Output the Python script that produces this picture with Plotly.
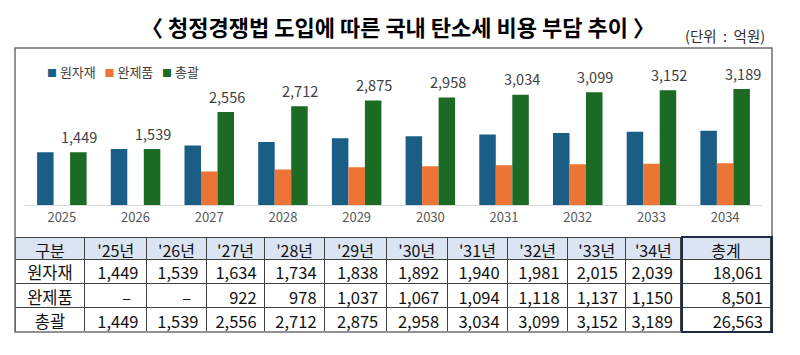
import plotly.graph_objects as go

# ---------------- data ----------------
years = ["2025", "2026", "2027", "2028", "2029", "2030", "2031", "2032", "2033", "2034"]
raw_material = [1449, 1539, 1634, 1734, 1838, 1892, 1940, 1981, 2015, 2039]
finished_goods = [None, None, 922, 978, 1037, 1067, 1094, 1118, 1137, 1150]
total = [1449, 1539, 2556, 2712, 2875, 2958, 3034, 3099, 3152, 3189]
table_year_labels = ["'25년", "'26년", "'27년", "'28년", "'29년", "'30년", "'31년", "'32년", "'33년", "'34년"]
series_names = ["원자재", "완제품", "총괄"]
sum_raw, sum_finished, sum_total = 18061, 8501, 26563

title_text = "〈 청정경쟁법 도입에 따른 국내 탄소세 비용 부담 추이 〉"
unit_text = "(단위 : 억원)"

# ---------------- style ----------------
W, H = 800, 355
C_BLUE, C_ORANGE, C_GREEN = "#1A5E86", "#EC7434", "#1B6B25"
FONT = "Noto Sans CJK KR"


def px(x):
    return x / W


def py(y):
    return 1 - y / H


fig = go.Figure()
colors = [C_BLUE, C_ORANGE, C_GREEN]
for name, vals, col in zip(series_names, [raw_material, finished_goods, total], colors):
    fig.add_trace(go.Bar(x=years, y=vals, name=name, marker=dict(color=col, line=dict(width=0)),
                         showlegend=False, hoverinfo="skip"))

bar_w_px = 16.5
annotations = []
for i, v in enumerate(total):
    # category axis: annotation x is the category's serial index
    annotations.append(dict(x=i, y=v, xref="x", yref="y", text=f"{v:,}", showarrow=False,
                            xshift=bar_w_px + 1, yshift=16, yanchor="middle",
                            font=dict(family=FONT, size=14.5, color="#404040")))

# title & unit
annotations.append(dict(x=px(398), y=py(26), xref="paper", yref="paper", text=f"<b>{title_text}</b>",
                        showarrow=False, xanchor="center", yanchor="middle",
                        font=dict(family=FONT, size=22, color="#000000")))
annotations.append(dict(x=px(767), y=py(36), xref="paper", yref="paper",
                        text=unit_text.replace(" ", "\u00a0\u00a0"),
                        showarrow=False, xanchor="right", yanchor="middle",
                        font=dict(family=FONT, size=14.5, color="#303030")))

# legend (custom, compact)
leg = "\u00a0\u00a0\u00a0".join(
    f"<span style='color:{c};font-size:10px'>■</span>\u00a0{n}" for n, c in zip(series_names, colors))
annotations.append(dict(x=px(45), y=py(72), xref="paper", yref="paper", text=leg, showarrow=False,
                        xanchor="left", yanchor="middle",
                        font=dict(family=FONT, size=13, color="#404040")))

# table
fmt = lambda v: "–\u00a0\u00a0" if v is None else f"{v:,}"
header_vals = ["구분"] + table_year_labels + ["총계"]
cells_vals = [series_names] + [[fmt(r), fmt(f), fmt(t)] for r, f, t in zip(raw_material, finished_goods, total)] \
    + [[f"{sum_raw:,}", f"{sum_finished:,}", f"{sum_total:,}"]]
col_widths = [70, 61.7, 60, 58.3, 60, 61.7, 61, 60.6, 60, 58.4, 55, 90.3]
fig.add_trace(go.Table(
    domain=dict(x=[px(15), px(772)], y=[py(332), py(237)]),
    columnwidth=col_widths,
    header=dict(values=header_vals, height=22, fill_color="#DBE4F3",
                line=dict(color="#404040", width=1), align="center",
                font=dict(family=FONT, size=16, color="#111111")),
    cells=dict(values=cells_vals, height=24.3, fill_color="white",
               line=dict(color="#404040", width=1),
               align=["center"] + ["right"] * 11,
               font=dict(family=FONT, size=16.5, color="#111111")),
))

shapes = [
    dict(type="rect", xref="paper", yref="paper", x0=px(15), x1=px(772), y0=py(332), y1=py(48),
         line=dict(color="#6F6F6F", width=1.5)),
    dict(type="rect", xref="paper", yref="paper", x0=px(682), x1=px(772), y0=py(332), y1=py(237),
         line=dict(color="#1F2A44", width=2)),
]

fig.update_layout(
    width=W, height=H, margin=dict(l=0, r=0, t=0, b=0),
    paper_bgcolor="white", plot_bgcolor="white",
    barmode="group", bargap=0.328, bargroupgap=0,
    xaxis=dict(type="category", domain=[px(25), px(762)], range=[-0.5, len(years) - 0.5],
               autorange=False, showline=True, linecolor="#D9D9D9",
               linewidth=1, showgrid=False, ticks="",
               tickfont=dict(family=FONT, size=13, color="#595959"), fixedrange=True),
    yaxis=dict(domain=[py(205), py(59.5)], range=[0, 4000], autorange=False, visible=False,
               showgrid=False, fixedrange=True),
    annotations=annotations, shapes=shapes, showlegend=False,
)

fig.write_html("out.html", config={"displayModeBar": False},
               post_script="document.body.style.margin='0px';")
